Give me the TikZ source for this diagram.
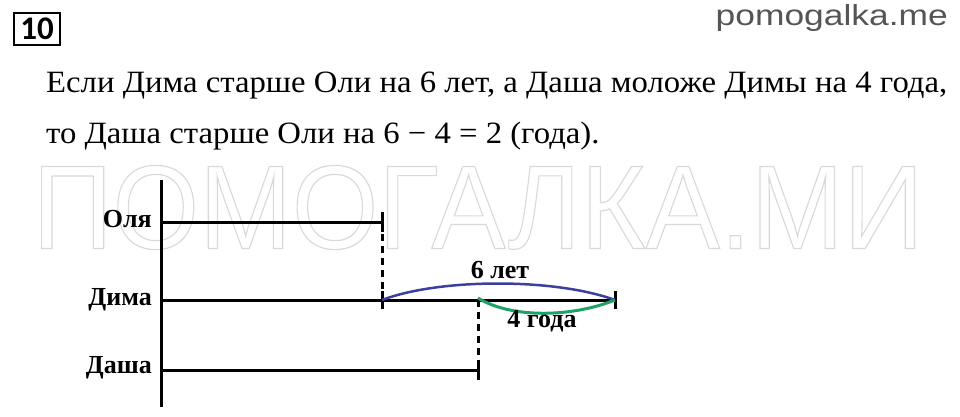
\documentclass[tikz,border=0pt]{standalone}
\usepackage{fontspec}
\setmainfont{Liberation Serif}
\newfontfamily\sitefont{Liberation Sans}
\newfontfamily\numfont{Carlito}
\definecolor{wmgray}{HTML}{D8D8D8}
\definecolor{arcblue}{HTML}{3B3F9E}
\definecolor{arcgreen}{HTML}{1FA266}
\definecolor{sitegray}{HTML}{555555}
\begin{document}
\begin{tikzpicture}[x=1pt,y=-1pt,
  axis/.style={line width=3pt},
  tickmark/.style={line width=3pt},
  dashline/.style={line width=3pt, dash pattern=on 7pt off 5pt},
  lbl/.style={font=\bfseries\fontsize{26}{26}\selectfont, inner sep=0pt},
  body/.style={font=\fontsize{31}{31}\selectfont, inner sep=0pt, anchor=base west, xscale=1.056, transform shape}]
\useasboundingbox (0,0) rectangle (960,416);
% watermark
\node[inner sep=0pt, xscale=0.935, transform shape, text=wmgray, font=\sitefont\fontsize{119}{119}\selectfont] (wm) at (478,207.5)
  {\special{pdf:code 1 Tr 1.2 w 0.85 0.85 0.85 RG}ПОМОГАЛКА.МИ\special{pdf:code 0 Tr}};
% header
\node[draw, line width=1.8pt, minimum width=46pt, minimum height=32pt, inner sep=0pt,
  font=\numfont\bfseries\fontsize{33}{33}\selectfont] (num) at (37,29) {10};
\node[anchor=base east, inner sep=0pt, text=sitegray, xscale=1.22, transform shape, font=\sitefont\fontsize{29}{29}\selectfont] (site) at (948,25) {pomogalka.me};
\node[body] (l1) at (46,92) {Если Дима старше Оли на 6 лет, а Даша моложе Димы на 4 года,};
\node[body] (l2) at (46,143) {то Даша старше Оли на 6~−~4~=~2 (года).};
% diagram coordinates
\coordinate (top) at (161,180);
\coordinate (bot) at (161,407);
\coordinate (o0) at (161,222);
\coordinate (o1) at (382,222);
\coordinate (d0) at (161,300);
\coordinate (d1) at (382,300);
\coordinate (dm) at (478,300);
\coordinate (d2) at (615,300);
\coordinate (s0) at (161,370);
\coordinate (s1) at (478,370);
\draw[axis] (top) -- (bot);
\draw[axis] (o0) -- (o1);
\draw[axis] (d0) -- (d2);
\draw[axis] (s0) -- (s1);
\draw[tickmark] ([yshift=-10pt]o1) -- ([yshift=10pt]o1);
\draw[tickmark] ([yshift=-9pt]d1) -- ([yshift=9pt]d1);
\draw[tickmark] ([yshift=-9pt]d2) -- ([yshift=9pt]d2);
\draw[tickmark] ([yshift=-10pt]s1) -- ([yshift=10pt]s1);
\draw[dashline] (o1) -- (d1);
\draw[dashline] (dm) -- (s1);
\draw[arcblue, line width=2.5pt] (d1) .. controls (440,278) and (555,278) .. (d2);
\draw[arcgreen, line width=3pt] ([yshift=2pt]dm) .. controls (510,318) and (570,318) .. (d2);
% labels
\node[lbl, anchor=base east] (olya) at (152,227) {Оля};
\node[lbl, anchor=base east] (dima) at (152,305) {Дима};
\node[lbl, anchor=base east] (dasha) at (152,373) {Даша};
\node[lbl, anchor=base] (six) at (500,278) {6 лет};
\node[lbl, anchor=base] (four) at (542,327) {4 года};
\end{tikzpicture}
\end{document}
